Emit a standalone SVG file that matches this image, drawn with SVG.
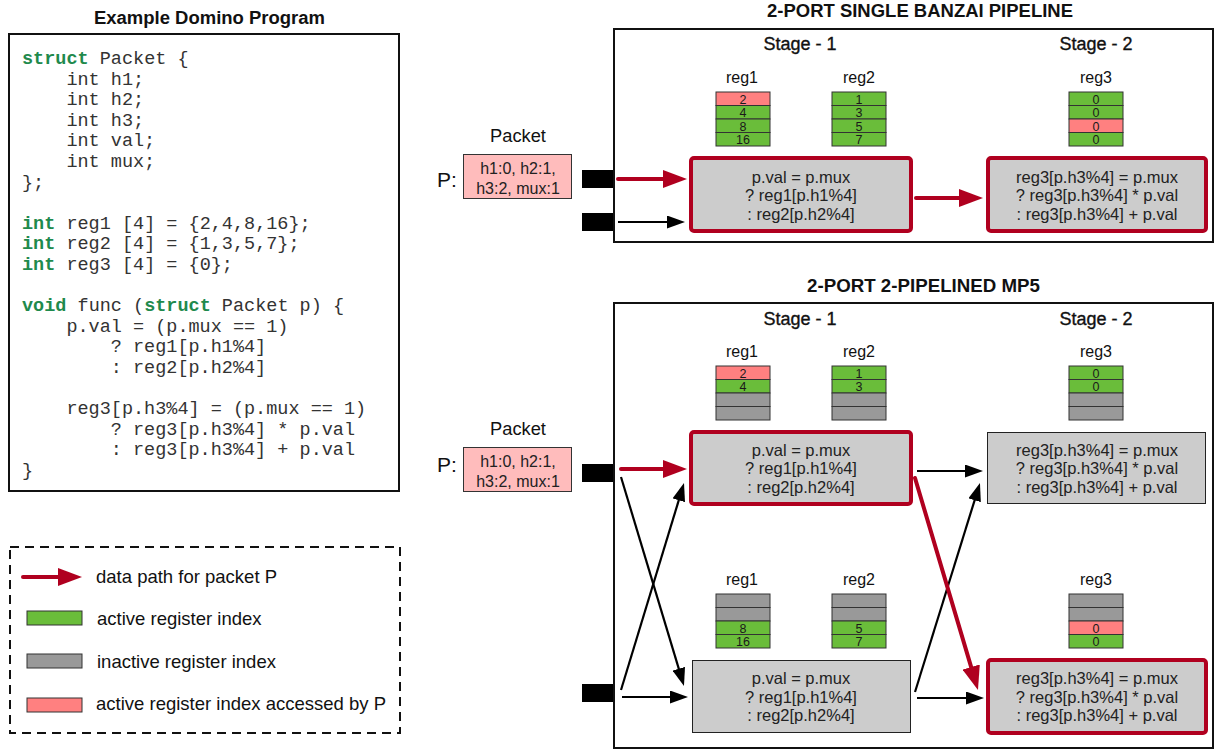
<svg xmlns="http://www.w3.org/2000/svg" width="1215" height="751" viewBox="0 0 1215 751">
<style>
.code{font-family:"Liberation Mono","Courier New",monospace;font-size:18.5px;fill:#333}
.kw{font-weight:bold;fill:#1f8a4d}
.sans{font-family:"Liberation Sans",Arial,Helvetica,sans-serif}
.title{font-family:"Liberation Sans",Arial,sans-serif;font-weight:bold;font-size:17.5px;fill:#111;text-anchor:middle}
.stage{font-family:"Liberation Sans",Arial,sans-serif;font-size:18px;fill:#111;stroke:#111;stroke-width:0.35;text-anchor:middle}
.rlab{font-family:"Liberation Sans",Arial,sans-serif;font-size:16px;fill:#111;text-anchor:middle}
.cv{font-family:"Liberation Sans",Arial,sans-serif;font-size:12.5px;fill:#1a1a1a;text-anchor:middle}
.bt{font-family:"Liberation Sans",Arial,sans-serif;font-size:16.5px;fill:#222;text-anchor:middle}
.leg{font-family:"Liberation Sans",Arial,sans-serif;font-size:18.5px;fill:#111}
.g{fill:#6abd3a;stroke:#333;stroke-width:1}
.p{fill:#ff8080;stroke:#333;stroke-width:1}
.x{fill:#999;stroke:#333;stroke-width:1}
.frame{fill:none;stroke:#111;stroke-width:2}
.rbox{fill:#ccc;stroke:#b0001f;stroke-width:4}
.gbox{fill:#ccc;stroke:#222;stroke-width:1}
.pkt{fill:#ffbcbc;stroke:#333;stroke-width:1}
.port{fill:#000}
.ra{stroke:#b0001f;stroke-width:4;stroke-linecap:round;fill:none}
.ba{stroke:#000;stroke-width:2.2;fill:none}
</style>
<defs>
<marker id="rh" markerUnits="userSpaceOnUse" markerWidth="24" markerHeight="18" refX="10" refY="9" orient="auto"><path d="M0,0 L24,9 L0,18 z" fill="#b0001f"/></marker>
<marker id="bh" markerUnits="userSpaceOnUse" markerWidth="18" markerHeight="13" refX="8" refY="6.5" orient="auto"><path d="M0,0 L18,6.5 L0,13 z" fill="#000"/></marker>
</defs>
<rect width="1215" height="751" fill="#fff"/>

<g id="code-panel">
<text class="title" x="209.5" y="24" textLength="231" lengthAdjust="spacingAndGlyphs">Example Domino Program</text>
<rect class="frame" x="9" y="34" width="390" height="457"/>
<text class="code" x="22" y="64"><tspan class="kw">struct</tspan> Packet {</text>
<text class="code" x="66.4" y="84.6">int h1;</text>
<text class="code" x="66.4" y="105.2">int h2;</text>
<text class="code" x="66.4" y="125.8">int h3;</text>
<text class="code" x="66.4" y="146.4">int val;</text>
<text class="code" x="66.4" y="167">int mux;</text>
<text class="code" x="22" y="187.6">};</text>
<text class="code" x="22" y="228.8"><tspan class="kw">int</tspan> reg1 [4] = {2,4,8,16};</text>
<text class="code" x="22" y="249.4"><tspan class="kw">int</tspan> reg2 [4] = {1,3,5,7};</text>
<text class="code" x="22" y="270"><tspan class="kw">int</tspan> reg3 [4] = {0};</text>
<text class="code" x="22" y="311.2"><tspan class="kw">void</tspan> func (<tspan class="kw">struct</tspan> Packet p) {</text>
<text class="code" x="66.4" y="331.8">p.val = (p.mux == 1)</text>
<text class="code" x="110.8" y="352.4">? reg1[p.h1%4]</text>
<text class="code" x="110.8" y="373">: reg2[p.h2%4]</text>
<text class="code" x="66.4" y="414.2">reg3[p.h3%4] = (p.mux == 1)</text>
<text class="code" x="110.8" y="434.8">? reg3[p.h3%4] * p.val</text>
<text class="code" x="110.8" y="455.4">: reg3[p.h3%4] + p.val</text>
<text class="code" x="22" y="476">}</text>
</g>

<g id="legend">
<rect x="10" y="547" width="390" height="186" fill="none" stroke="#111" stroke-width="2" stroke-dasharray="9,6"/>
<line class="ra" x1="23" y1="577" x2="68" y2="577" marker-end="url(#rh)"/>
<text class="leg" x="96" y="583">data path for packet P</text>
<rect class="g" x="27" y="611" width="55" height="14"/>
<text class="leg" x="97" y="625">active register index</text>
<rect class="x" x="27" y="654" width="55" height="14"/>
<text class="leg" x="97" y="668">inactive register index</text>
<rect class="p" x="27" y="698" width="55" height="14"/>
<text class="leg" x="96" y="710">active register index accessed by P</text>
</g>

<g id="banzai-frame">
<text class="title" x="920" y="17" textLength="306" lengthAdjust="spacingAndGlyphs">2-PORT SINGLE BANZAI PIPELINE</text>
<rect class="frame" x="614" y="29" width="599" height="213"/>
<text class="stage" x="800" y="50">Stage - 1</text>
<text class="stage" x="1096" y="50">Stage - 2</text>
</g>

<g id="banzai-packet">
<text class="sans" x="518" y="142" font-size="18.3" text-anchor="middle" fill="#111">Packet</text>
<text class="sans" x="437" y="187" font-size="21" fill="#111">P:</text>
<rect class="pkt" x="463.5" y="154.5" width="108" height="44"/>
<text class="sans" x="518" y="173.5" font-size="16" text-anchor="middle" fill="#222">h1:0, h2:1,</text>
<text class="sans" x="518" y="194" font-size="16" text-anchor="middle" fill="#222">h3:2, mux:1</text>
</g>
<g id="banzai-port1"><rect class="port" x="582" y="170" width="31" height="18"/></g>
<g id="banzai-port2"><rect class="port" x="582" y="213" width="31" height="18"/></g>

<g id="banzai-reg1">
<text class="rlab" x="742" y="83">reg1</text>
<rect class="p" x="716" y="92" width="54" height="13.5"/><text class="cv" x="743" y="103.5">2</text>
<rect class="g" x="716" y="105.5" width="54" height="13.5"/><text class="cv" x="743" y="117">4</text>
<rect class="g" x="716" y="119" width="54" height="13.5"/><text class="cv" x="743" y="130.5">8</text>
<rect class="g" x="716" y="132.5" width="54" height="13.5"/><text class="cv" x="743" y="144">16</text>
</g>
<g id="banzai-reg2">
<text class="rlab" x="859" y="83">reg2</text>
<rect class="g" x="832" y="92" width="54" height="13.5"/><text class="cv" x="859" y="103.5">1</text>
<rect class="g" x="832" y="105.5" width="54" height="13.5"/><text class="cv" x="859" y="117">3</text>
<rect class="g" x="832" y="119" width="54" height="13.5"/><text class="cv" x="859" y="130.5">5</text>
<rect class="g" x="832" y="132.5" width="54" height="13.5"/><text class="cv" x="859" y="144">7</text>
</g>
<g id="banzai-reg3">
<text class="rlab" x="1096" y="83">reg3</text>
<rect class="g" x="1069" y="92" width="54" height="13.5"/><text class="cv" x="1096" y="103.5">0</text>
<rect class="g" x="1069" y="105.5" width="54" height="13.5"/><text class="cv" x="1096" y="117">0</text>
<rect class="p" x="1069" y="119" width="54" height="13.5"/><text class="cv" x="1096" y="130.5">0</text>
<rect class="g" x="1069" y="132.5" width="54" height="13.5"/><text class="cv" x="1096" y="144">0</text>
</g>
<g id="banzai-stage1-alu">
<rect class="rbox" x="691" y="158" width="220" height="73" rx="3"/>
<text class="bt" x="801" y="182.5">p.val = p.mux</text>
<text class="bt" x="801" y="201">? reg1[p.h1%4]</text>
<text class="bt" x="801" y="219.5">: reg2[p.h2%4]</text>
</g>
<g id="banzai-stage2-alu">
<rect class="rbox" x="988" y="158" width="218" height="73" rx="3"/>
<text class="bt" x="1097" y="182.5">reg3[p.h3%4] = p.mux</text>
<text class="bt" x="1097" y="201">? reg3[p.h3%4] * p.val</text>
<text class="bt" x="1097" y="219.5">: reg3[p.h3%4] + p.val</text>
</g>

<g id="mp5-frame">
<text class="title" x="923.5" y="292" textLength="233" lengthAdjust="spacingAndGlyphs">2-PORT 2-PIPELINED MP5</text>
<rect class="frame" x="614" y="303" width="599" height="445"/>
<text class="stage" x="800" y="325">Stage - 1</text>
<text class="stage" x="1096" y="325">Stage - 2</text>
</g>

<g id="mp5-packet">
<text class="sans" x="518" y="435" font-size="18.3" text-anchor="middle" fill="#111">Packet</text>
<text class="sans" x="437" y="472" font-size="21" fill="#111">P:</text>
<rect class="pkt" x="463.5" y="447.5" width="108" height="44"/>
<text class="sans" x="518" y="466.5" font-size="16" text-anchor="middle" fill="#222">h1:0, h2:1,</text>
<text class="sans" x="518" y="486.5" font-size="16" text-anchor="middle" fill="#222">h3:2, mux:1</text>
</g>
<g id="mp5-port1"><rect class="port" x="582" y="464" width="31" height="18"/></g>
<g id="mp5-port2"><rect class="port" x="582" y="684" width="31" height="18"/></g>

<g id="mp5-p1-reg1">
<text class="rlab" x="742" y="357">reg1</text>
<rect class="p" x="716" y="366" width="54" height="13.5"/><text class="cv" x="743" y="377.5">2</text>
<rect class="g" x="716" y="379.5" width="54" height="13.5"/><text class="cv" x="743" y="391">4</text>
<rect class="x" x="716" y="393" width="54" height="13.5"/>
<rect class="x" x="716" y="406.5" width="54" height="13.5"/>
</g>
<g id="mp5-p1-reg2">
<text class="rlab" x="859" y="357">reg2</text>
<rect class="g" x="832" y="366" width="54" height="13.5"/><text class="cv" x="859" y="377.5">1</text>
<rect class="g" x="832" y="379.5" width="54" height="13.5"/><text class="cv" x="859" y="391">3</text>
<rect class="x" x="832" y="393" width="54" height="13.5"/>
<rect class="x" x="832" y="406.5" width="54" height="13.5"/>
</g>
<g id="mp5-p1-reg3">
<text class="rlab" x="1096" y="357">reg3</text>
<rect class="g" x="1069" y="366" width="54" height="13.5"/><text class="cv" x="1096" y="377.5">0</text>
<rect class="g" x="1069" y="379.5" width="54" height="13.5"/><text class="cv" x="1096" y="391">0</text>
<rect class="x" x="1069" y="393" width="54" height="13.5"/>
<rect class="x" x="1069" y="406.5" width="54" height="13.5"/>
</g>
<g id="mp5-p1-stage1-alu">
<rect class="rbox" x="691" y="432" width="220" height="72" rx="3"/>
<text class="bt" x="801" y="455.5">p.val = p.mux</text>
<text class="bt" x="801" y="474">? reg1[p.h1%4]</text>
<text class="bt" x="801" y="492.5">: reg2[p.h2%4]</text>
</g>
<g id="mp5-p1-stage2-alu">
<rect class="gbox" x="987.5" y="432.5" width="218" height="71"/>
<text class="bt" x="1097" y="455.5">reg3[p.h3%4] = p.mux</text>
<text class="bt" x="1097" y="474">? reg3[p.h3%4] * p.val</text>
<text class="bt" x="1097" y="492.5">: reg3[p.h3%4] + p.val</text>
</g>

<g id="mp5-p2-reg1">
<text class="rlab" x="742" y="585">reg1</text>
<rect class="x" x="716" y="594" width="54" height="13.5"/>
<rect class="x" x="716" y="607.5" width="54" height="13.5"/>
<rect class="g" x="716" y="621" width="54" height="13.5"/><text class="cv" x="743" y="632.5">8</text>
<rect class="g" x="716" y="634.5" width="54" height="13.5"/><text class="cv" x="743" y="646">16</text>
</g>
<g id="mp5-p2-reg2">
<text class="rlab" x="859" y="585">reg2</text>
<rect class="x" x="832" y="594" width="54" height="13.5"/>
<rect class="x" x="832" y="607.5" width="54" height="13.5"/>
<rect class="g" x="832" y="621" width="54" height="13.5"/><text class="cv" x="859" y="632.5">5</text>
<rect class="g" x="832" y="634.5" width="54" height="13.5"/><text class="cv" x="859" y="646">7</text>
</g>
<g id="mp5-p2-reg3">
<text class="rlab" x="1096" y="585">reg3</text>
<rect class="x" x="1069" y="594" width="54" height="13.5"/>
<rect class="x" x="1069" y="607.5" width="54" height="13.5"/>
<rect class="p" x="1069" y="621" width="54" height="13.5"/><text class="cv" x="1096" y="632.5">0</text>
<rect class="g" x="1069" y="634.5" width="54" height="13.5"/><text class="cv" x="1096" y="646">0</text>
</g>
<g id="mp5-p2-stage1-alu">
<rect class="gbox" x="692.5" y="660.5" width="218" height="72"/>
<text class="bt" x="801" y="684">p.val = p.mux</text>
<text class="bt" x="801" y="702.5">? reg1[p.h1%4]</text>
<text class="bt" x="801" y="721">: reg2[p.h2%4]</text>
</g>
<g id="mp5-p2-stage2-alu">
<rect class="rbox" x="988" y="660" width="218" height="73" rx="3"/>
<text class="bt" x="1097" y="684">reg3[p.h3%4] = p.mux</text>
<text class="bt" x="1097" y="702.5">? reg3[p.h3%4] * p.val</text>
<text class="bt" x="1097" y="721">: reg3[p.h3%4] + p.val</text>
</g>

<g id="connectors">
<line class="ra" x1="618" y1="179" x2="673" y2="179" marker-end="url(#rh)"/>
<line class="ba" x1="618" y1="222" x2="675" y2="222" marker-end="url(#bh)"/>
<line class="ra" x1="916" y1="198" x2="969" y2="198" marker-end="url(#rh)"/>

<line class="ra" x1="621" y1="469" x2="673" y2="469" marker-end="url(#rh)"/>
<line class="ba" x1="621" y1="477" x2="681.1" y2="676.4" marker-end="url(#bh)"/>
<line class="ba" x1="621" y1="690" x2="681.1" y2="492.6" marker-end="url(#bh)"/>
<line class="ba" x1="622" y1="697" x2="678" y2="697" marker-end="url(#bh)"/>
<line class="ba" x1="917" y1="471" x2="973" y2="471" marker-end="url(#bh)"/>
<line class="ba" x1="915" y1="692" x2="977" y2="492.6" marker-end="url(#bh)"/>
<line class="ba" x1="917" y1="698" x2="974" y2="698" marker-end="url(#bh)"/>
<line class="ra" x1="915" y1="478" x2="974" y2="676.6" marker-end="url(#rh)"/>
</g>
</svg>
